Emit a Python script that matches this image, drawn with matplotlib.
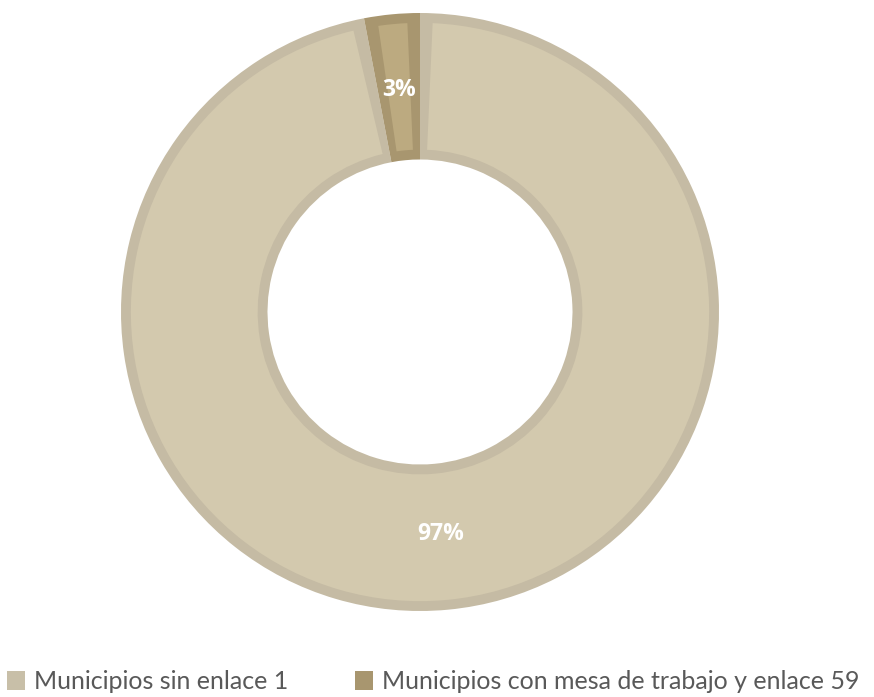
import matplotlib
matplotlib.use("Agg")
import numpy as np
import matplotlib.pyplot as plt
from matplotlib.patches import Patch, Wedge

# --- DATA ---
LABELS = ["Municipios sin enlace 1", "Municipios con mesa de trabajo y enlace 59"]
SHARES = [97, 3]

FILL_COLORS = ["#D3C9AE", "#BCAA80"]
EDGE_COLORS = ["#C5BBA4", "#A8966F"]
LEGEND_COLORS = ["#C8BFA8", "#A8966F"]

plt.rcParams["font.family"] = ["Lato", "DejaVu Sans"]

fig = plt.figure(figsize=(8.74, 6.97), dpi=100)

# donut centre (420, 312) px, outer radius ~299 px
cx, cy, r = 420, 697 - 312, 299
ax = fig.add_axes([(cx - r) / 874, (cy - r) / 697, 2 * r / 874, 2 * r / 697])

RING = 0.49
BORDER = 0.033  # bevel thickness in data units

wedges, texts, autotexts = ax.pie(
    SHARES,
    startangle=90,
    counterclock=False,
    radius=1.0,
    colors=EDGE_COLORS,
    autopct="%1.0f%%",
    pctdistance=0.745,
    wedgeprops=dict(width=RING, linewidth=0),
    textprops=dict(color="white", fontsize=16.5, fontweight="bold",
                   family=["Open Sans", "DejaVu Sans"]),
)

# lighter inner face, inset from each wedge edge
r_mid = 1.0 - RING / 2
inset_deg = np.degrees(BORDER / r_mid)
for w, fc in zip(wedges, FILL_COLORS):
    face = Wedge((0, 0), 1.0 - BORDER, w.theta1 + inset_deg, w.theta2 - inset_deg,
                 width=RING - 2 * BORDER, facecolor=fc, linewidth=0, zorder=w.get_zorder())
    ax.add_patch(face)
for t in autotexts:
    t.set_zorder(5)

ax.set_xlim(-1, 1)
ax.set_ylim(-1, 1)
ax.set_aspect("equal")
ax.axis("off")

handles = [Patch(facecolor=c, edgecolor="none") for c in LEGEND_COLORS]
fig.legend(
    handles, LABELS,
    loc="center left", bbox_to_anchor=(0.002, 0.022),
    ncol=2, frameon=False, fontsize=18,
    labelcolor="#595959",
    handlelength=0.75, handleheight=0.75, handletextpad=0.35,
    columnspacing=2.65, borderaxespad=0, borderpad=0.2,
)

fig.savefig("out.png", dpi=100)
